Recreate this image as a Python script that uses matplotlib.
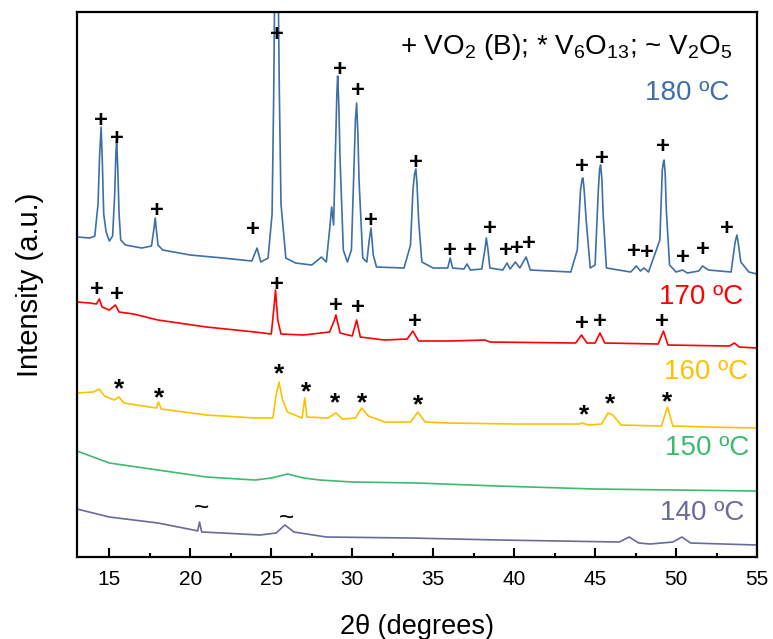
import matplotlib
matplotlib.use("Agg")
import matplotlib.pyplot as plt
from matplotlib.ticker import MultipleLocator

plt.rcParams['font.family'] = ['Liberation Sans', 'DejaVu Sans']
plt.rcParams['mathtext.fontset'] = 'custom'
plt.rcParams['mathtext.rm'] = 'Liberation Sans'

# ---- data: (2theta, intensity above each trace's baseline at 55 deg) ----
t180 = [13.0, 13.8, 14.1, 14.3, 14.4, 14.49, 14.56, 14.65, 14.8, 15.0, 15.2, 15.33, 15.4,
        15.45, 15.52, 15.6, 15.7, 16.0, 17.0, 17.6, 17.75, 17.83, 17.9, 18.0, 18.3, 20.0,
        22.0, 23.8, 24.12, 24.35, 24.8, 25.05, 25.15, 25.22, 25.42, 25.5, 25.6, 25.9, 26.5,
        27.5, 28.1, 28.4, 28.6, 28.73, 28.85, 28.95, 29.05, 29.1, 29.17, 29.25, 29.45, 29.7,
        29.95, 30.1, 30.2, 30.27, 30.35, 30.42, 30.65, 30.9, 31.05, 31.16, 31.3, 31.5, 33.2,
        33.6, 33.75, 33.85, 33.93, 34.0, 34.1, 34.3, 35.0, 35.9, 36.05, 36.2, 36.9, 37.09,
        37.3, 38.0, 38.2, 38.28, 38.38, 38.5, 39.3, 39.56, 39.75, 40.08, 40.35, 40.74, 41.0,
        43.5, 43.9, 44.1, 44.2, 44.25, 44.32, 44.45, 44.7, 45.0, 45.2, 45.28, 45.34, 45.42,
        45.5, 45.7, 47.2, 47.55, 47.8, 48.02, 48.3, 49.0, 49.15, 49.22, 49.26, 49.33, 49.4,
        49.6, 50.0, 50.4, 50.7, 51.4, 51.64, 52.0, 53.4, 53.65, 53.76, 53.85, 54.0, 54.5, 55.0]
i180 = [37, 36, 38, 70, 120, 147, 115, 60, 42, 33, 38, 80, 120,
        134, 105, 60, 34, 29, 26, 28, 45, 56, 45, 29, 24, 19,
        16, 13, 26, 12, 16, 60, 180, 300, 300, 180, 70, 16, 11,
        9, 17, 12, 44, 67, 49, 114, 180, 198, 170, 114, 24, 12,
        24, 104, 155, 171, 140, 94, 16, 12, 34, 46, 19, 7, 6,
        29, 84, 100, 105, 90, 54, 12, 6, 6, 16, 6, 5, 10,
        4, 5, 25, 36, 25, 6, 4, 11, 5, 12, 6, 17, 4,
        2, 24, 84, 95, 96, 85, 54, 6, 9, 84, 105, 109, 95,
        59, 6, 2, 8, 3, 6, 2, 34, 104, 112, 114, 100, 64,
        9, 2, 4, 1, 3, 8, 4, 2, 32, 39, 30, 12, 2, 0]

t170 = [13.0, 13.8, 14.2, 14.38, 14.55, 15.0, 15.37, 15.6, 16.5, 18.0, 21.0, 24.0, 25.0,
        25.15, 25.26, 25.4, 25.6, 27.0, 28.6, 28.9, 28.99, 29.25, 30.0, 30.27, 30.5, 32.0,
        33.4, 33.74, 34.1, 36.0, 38.2, 38.5, 43.8, 44.16, 44.5, 45.0, 45.3, 45.6, 48.9,
        49.22, 49.5, 53.3, 53.6, 53.9, 55.0]
i170 = [46, 45, 44, 49, 41, 38, 43, 36, 34, 28, 21, 16, 14,
        38, 58, 28, 14, 13, 16, 28, 33, 15, 12, 28, 11, 8,
        9, 17, 7, 7, 8, 6, 5, 13, 5, 5, 15, 5, 4,
        17, 3, 2, 5, 1, 0]

t160 = [13.0, 14.0, 14.38, 14.7, 15.3, 15.58, 15.9, 17.9, 18.03, 18.2, 21.0, 24.0, 25.1,
        25.3, 25.48, 25.7, 26.0, 26.9, 27.07, 27.2, 28.5, 28.99, 29.4, 30.2, 30.58, 31.0,
        32.0, 33.6, 34.05, 34.5, 36.0, 40.0, 44.0, 44.2, 44.6, 45.4, 45.8, 46.1, 46.6,
        49.1, 49.47, 49.8, 52.0, 55.0]
i160 = [35, 36, 39, 32, 28, 31, 25, 20, 26, 19, 13, 10, 10,
        33, 46, 28, 16, 10, 30, 11, 10, 15, 9, 10, 20, 12,
        6, 6, 16, 6, 5, 4, 4, 5, 3, 4, 15, 13, 3,
        2, 21, 2, 1, 0]

t150 = [13.0, 15.0, 18.0, 21.0, 24.0, 25.0, 26.0, 27.0, 28.0, 30.0, 34.0, 39.0, 45.0, 50.0, 55.0]
i150 = [40, 28, 21, 14, 11, 13, 17, 13, 11, 9, 8, 5, 2, 1, 0]

t140 = [13.0, 15.0, 18.0, 20.2, 20.45, 20.57, 20.7, 22.0, 24.3, 25.3, 25.84, 26.4, 28.4,
        33.6, 39.1, 46.5, 47.1, 47.7, 48.4, 49.8, 50.36, 50.9, 55.0]
i140 = [36, 28, 22, 15, 14, 23, 13, 12, 10, 12, 20, 13, 8,
        7, 5, 3, 8, 2, 1, 3, 8, 2, 0]

temps = ['180 ºC', '170 ºC', '160 ºC', '150 ºC', '140 ºC']
colors = ['#3d6fa8', '#ff0000', '#ffc000', '#3cba6e', '#6a6a9c']
offsets = [283, 209, 129, 66, 12]
label_x = [53.27, 54.13, 54.44, 54.50, 54.20]
label_y = [464, 260, 185, 109, 44]

# phase markers (2theta, absolute height)
plus_x = [14.49, 15.45, 17.91, 23.87, 25.32, 29.24, 30.37, 31.18, 33.95, 36.01, 37.25,
          38.49, 39.52, 40.18, 40.90, 44.21, 45.45, 47.37, 48.23, 49.22, 50.40, 51.68, 53.14,
          14.24, 15.45, 25.32, 28.99, 30.37, 33.90, 44.16, 45.30, 49.12]
plus_y = [438.7, 421, 348.7, 329.3, 524.7, 489.3, 468.7, 338.7, 397, 308.7, 308.7,
          331, 308.7, 310.3, 315.3, 393, 400.3, 307.7, 307, 412.7, 302, 309.7, 331,
          269.7, 264.3, 274.3, 253.7, 252, 237.7, 235.3, 237.7, 237.7]
star_x = [15.62, 18.05, 25.48, 27.12, 28.93, 30.62, 34.04, 44.31, 45.90, 49.47]
star_y = [175.3, 166.3, 191, 172.7, 162, 162, 159.5, 149.3, 161, 163]
tilde_x = [20.72, 25.94]
tilde_y = [48.7, 39.3]

traces = [(t180, i180), (t170, i170), (t160, i160), (t150, i150), (t140, i140)]

fig = plt.figure(figsize=(7.73, 6.39), dpi=100)
ax = fig.add_axes([0.0996, 0.1283, 0.8797, 0.8529])

for (tx, iy), off, c in zip(traces, offsets, colors):
    ax.plot(tx, [v + off for v in iy], color=c, lw=1.2)

for name, c, lx, ly in zip(temps, colors, label_x, label_y):
    ax.text(lx, ly, name, color=c, fontsize=20, ha='right', va='center')

for x, y in zip(plus_x, plus_y):
    ax.text(x, y - 2, '+', fontsize=17, fontweight='bold', ha='center', va='center', color='black')
for x, y in zip(star_x, star_y):
    ax.text(x, y - 8, '*', fontsize=19, fontweight='bold', ha='center', va='center', color='black')
for x, y in zip(tilde_x, tilde_y):
    ax.text(x, y, '~', fontsize=19, ha='center', va='center', color='black')

ax.text(0.965, 0.936, r'+ VO$_\mathregular{2}$ (B); * V$_\mathregular{6}$O$_\mathregular{13}$; ~ V$_\mathregular{2}$O$_\mathregular{5}$',
        transform=ax.transAxes, fontsize=20, ha='right', va='center')

ax.set_xlim(13, 55)
ax.set_ylim(0, 545)
ax.xaxis.set_major_locator(MultipleLocator(5))
ax.xaxis.set_minor_locator(MultipleLocator(2.5))
ax.tick_params(axis='x', which='major', direction='in', length=6.5, width=1.5,
               labelsize=15, pad=9, top=False)
ax.tick_params(axis='x', which='minor', direction='in', length=3, width=1.5, top=False)
ax.set_yticks([])
for s in ax.spines.values():
    s.set_linewidth(1.6)

ax.set_xlabel('2θ (degrees)', fontsize=19.5, labelpad=18)
ax.set_ylabel('Intensity (a.u.)', fontsize=21, labelpad=24)

fig.savefig('out.png', dpi=100)
